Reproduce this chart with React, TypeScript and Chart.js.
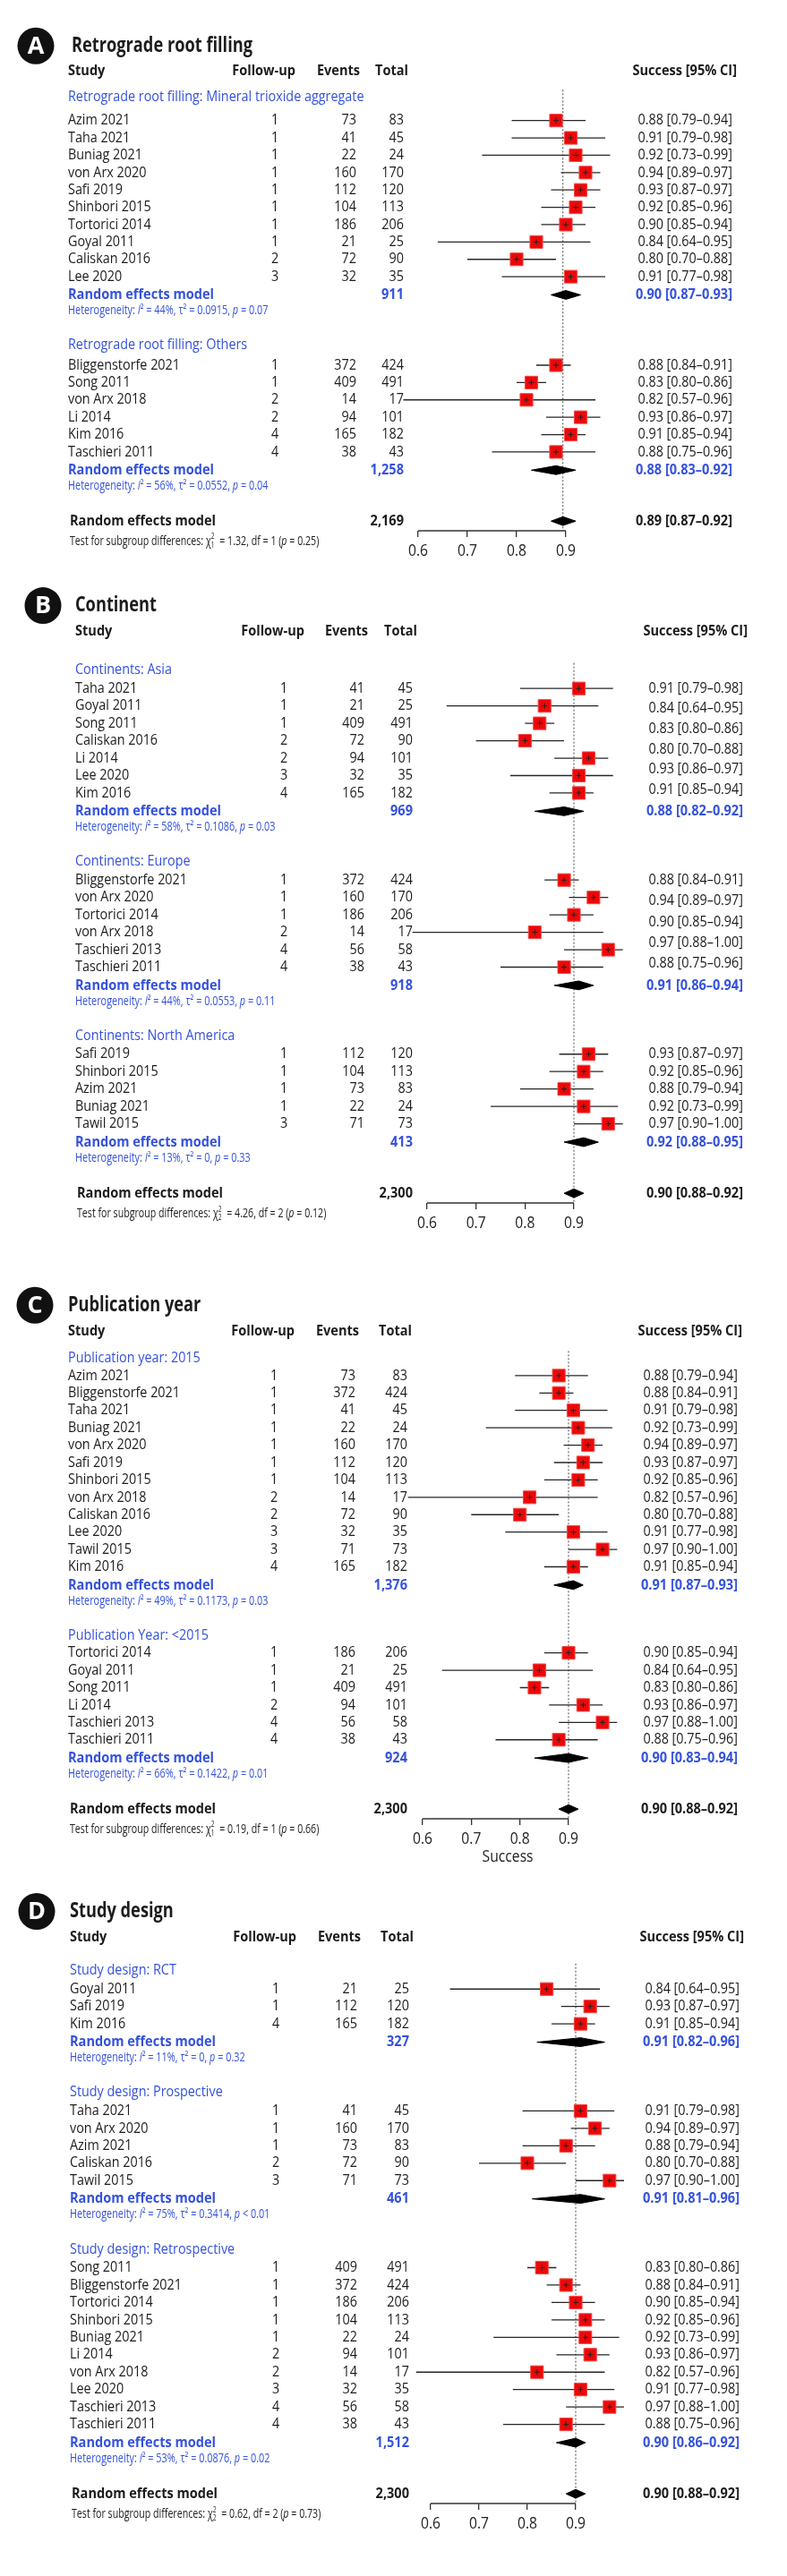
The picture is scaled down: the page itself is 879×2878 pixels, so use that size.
import React, { useEffect, useRef } from 'react';
import { Chart, registerables } from 'chart.js';

Chart.register(...registerables);

// ---------------- DATA ----------------
const studyNames = [
  'Azim 2021', 'Taha 2021', 'Buniag 2021', 'von Arx 2020', 'Safi 2019', 'Shinbori 2015',
  'Tortorici 2014', 'Goyal 2011', 'Caliskan 2016', 'Lee 2020', 'Bliggenstorfe 2021', 'Song 2011',
  'von Arx 2018', 'Li 2014', 'Kim 2016', 'Taschieri 2011', 'Taschieri 2013', 'Tawil 2015',
];
const studyFollowUp = [1, 1, 1, 1, 1, 1, 1, 1, 2, 3, 1, 1, 2, 2, 4, 4, 4, 3];
const studyEvents = [73, 41, 22, 160, 112, 104, 186, 21, 72, 32, 372, 409, 14, 94, 165, 38, 56, 71];
const studyTotals = [83, 45, 24, 170, 120, 113, 206, 25, 90, 35, 424, 491, 17, 101, 182, 43, 58, 73];
const studySuccess = [0.88, 0.91, 0.92, 0.94, 0.93, 0.92, 0.90, 0.84, 0.80, 0.91, 0.88, 0.83, 0.82, 0.93, 0.91, 0.88, 0.97, 0.97];
const studyLower = [0.79, 0.79, 0.73, 0.89, 0.87, 0.85, 0.85, 0.64, 0.70, 0.77, 0.84, 0.80, 0.57, 0.86, 0.85, 0.75, 0.88, 0.90];
const studyUpper = [0.94, 0.98, 0.99, 0.97, 0.97, 0.96, 0.94, 0.95, 0.88, 0.98, 0.91, 0.86, 0.96, 0.97, 0.94, 0.96, 1.00, 1.00];
const axisTickValues = [0.6, 0.7, 0.8, 0.9];

// Panel A
const panelATitle = 'Retrograde root filling';
const panelASubgroups = ['Retrograde root filling: Mineral trioxide aggregate', 'Retrograde root filling: Others'];
const panelAMembers = [
  ['Azim 2021', 'Taha 2021', 'Buniag 2021', 'von Arx 2020', 'Safi 2019', 'Shinbori 2015', 'Tortorici 2014', 'Goyal 2011', 'Caliskan 2016', 'Lee 2020'],
  ['Bliggenstorfe 2021', 'Song 2011', 'von Arx 2018', 'Li 2014', 'Kim 2016', 'Taschieri 2011'],
];
const panelASubTotals = ['911', '1,258'];
const panelASubSuccess = [0.90, 0.88];
const panelASubLower = [0.87, 0.83];
const panelASubUpper = [0.93, 0.92];
const panelAHetI2 = ['44%', '56%'];
const panelAHetTau2 = ['0.0915', '0.0552'];
const panelAHetP = ['= 0.07', '= 0.04'];
const panelAOverallTotal = '2,169';
const panelAOverallCI = [0.894, 0.87, 0.92];
const panelATest = ['1', '1.32', '1', '0.25'];

// Panel B
const panelBTitle = 'Continent';
const panelBSubgroups = ['Continents: Asia', 'Continents: Europe', 'Continents: North America'];
const panelBMembers = [
  ['Taha 2021', 'Goyal 2011', 'Song 2011', 'Caliskan 2016', 'Li 2014', 'Lee 2020', 'Kim 2016'],
  ['Bliggenstorfe 2021', 'von Arx 2020', 'Tortorici 2014', 'von Arx 2018', 'Taschieri 2013', 'Taschieri 2011'],
  ['Safi 2019', 'Shinbori 2015', 'Azim 2021', 'Buniag 2021', 'Tawil 2015'],
];
const panelBSubTotals = ['969', '918', '413'];
const panelBSubSuccess = [0.88, 0.91, 0.92];
const panelBSubLower = [0.82, 0.86, 0.88];
const panelBSubUpper = [0.92, 0.94, 0.95];
const panelBHetI2 = ['58%', '44%', '13%'];
const panelBHetTau2 = ['0.1086', '0.0553', '0'];
const panelBHetP = ['= 0.03', '= 0.11', '= 0.33'];
const panelBOverallTotal = '2,300';
const panelBOverallCI = [0.90, 0.88, 0.92];
const panelBTest = ['2', '4.26', '2', '0.12'];
const panelBMissingCiText = ['Lee 2020', 'von Arx 2018'];

// Panel C
const panelCTitle = 'Publication year';
const panelCSubgroups = ['Publication year: 2015', 'Publication Year: <2015'];
const panelCMembers = [
  ['Azim 2021', 'Bliggenstorfe 2021', 'Taha 2021', 'Buniag 2021', 'von Arx 2020', 'Safi 2019', 'Shinbori 2015', 'von Arx 2018', 'Caliskan 2016', 'Lee 2020', 'Tawil 2015', 'Kim 2016'],
  ['Tortorici 2014', 'Goyal 2011', 'Song 2011', 'Li 2014', 'Taschieri 2013', 'Taschieri 2011'],
];
const panelCSubTotals = ['1,376', '924'];
const panelCSubSuccess = [0.91, 0.90];
const panelCSubLower = [0.87, 0.83];
const panelCSubUpper = [0.93, 0.94];
const panelCHetI2 = ['49%', '66%'];
const panelCHetTau2 = ['0.1173', '0.1422'];
const panelCHetP = ['= 0.03', '= 0.01'];
const panelCOverallTotal = '2,300';
const panelCOverallCI = [0.90, 0.88, 0.92];
const panelCTest = ['1', '0.19', '1', '0.66'];
const panelCAxisTitle = 'Success';

// Panel D
const panelDTitle = 'Study design';
const panelDSubgroups = ['Study design: RCT', 'Study design: Prospective', 'Study design: Retrospective'];
const panelDMembers = [
  ['Goyal 2011', 'Safi 2019', 'Kim 2016'],
  ['Taha 2021', 'von Arx 2020', 'Azim 2021', 'Caliskan 2016', 'Tawil 2015'],
  ['Song 2011', 'Bliggenstorfe 2021', 'Tortorici 2014', 'Shinbori 2015', 'Buniag 2021', 'Li 2014', 'von Arx 2018', 'Lee 2020', 'Taschieri 2013', 'Taschieri 2011'],
];
const panelDSubTotals = ['327', '461', '1,512'];
const panelDSubSuccess = [0.91, 0.91, 0.90];
const panelDSubLower = [0.82, 0.81, 0.86];
const panelDSubUpper = [0.96, 0.96, 0.92];
const panelDHetI2 = ['11%', '75%', '53%'];
const panelDHetTau2 = ['0', '0.3414', '0.0876'];
const panelDHetP = ['= 0.32', '< 0.01', '= 0.02'];
const panelDOverallTotal = '2,300';
const panelDOverallCI = [0.90, 0.88, 0.92];
const panelDTest = ['2', '0.62', '2', '0.73'];

// ---------------- STYLE / LAYOUT ----------------
const FONT = "'Open Sans', 'Noto Sans', 'DejaVu Sans', sans-serif";
const BLUE = '#3552dc';
const INK = '#1c1c1c';
const RED = '#ec0808';
const ROW = 19.75;
const PAGE_W = 879;

type TextStyle = { size: number; weight: number; refText: string; refWidth: number };
const STYLE_BODY: TextStyle = { size: 16.5, weight: 400, refText: 'Bliggenstorfe 2021', refWidth: 125 };
const STYLE_BOLD: TextStyle = { size: 16.5, weight: 700, refText: 'Random effects model', refWidth: 163 };
const STYLE_TITLE: TextStyle = { size: 23, weight: 700, refText: 'Retrograde root filling', refWidth: 202 };
const STYLE_SMALL: TextStyle = { size: 14, weight: 400, refText: 'Heterogeneity: I\u00B2 = 44%, \u03C4\u00B2 = 0.0915, p = 0.07', refWidth: 224 };
const STYLE_TEST: TextStyle = { size: 15, weight: 400, refText: 'Test for subgroup differences: \u03C72 = 1.32, df = 1 (p = 0.25)', refWidth: 278 };
const STYLE_TICK: TextStyle = { size: 19, weight: 400, refText: '0.6', refWidth: 22 };
const STYLE_AXIS_TITLE: TextStyle = { size: 18, weight: 400, refText: 'Success', refWidth: 57 };

type PanelLayout = {
  top: number; circleX: number; circleY: number; titleX: number; titleY: number; headerY: number;
  labelY: number; gapFirst: number; gapLater: number; studyX: number; fuX: number; evX: number;
  totX: number; ciX: number; tick06: number; tick09: number; axisBlock: number;
};

const layoutA: PanelLayout = { top: 0, circleX: 40, circleY: 41, titleX: 80, titleY: 41, headerY: 70, labelY: 99, gapFirst: 27, gapLater: 23, studyX: 76, fuX: 307, evX: 398, totX: 451, ciX: 818, tick06: 467, tick09: 632, axisBlock: 40 };
const layoutB: PanelLayout = { top: 640, circleX: 48, circleY: 666, titleX: 84, titleY: 666, headerY: 695, labelY: 739, gapFirst: 21, gapLater: 21, studyX: 84, fuX: 317, evX: 407, totX: 461, ciX: 830, tick06: 477, tick09: 641, axisBlock: 40 };
const layoutC: PanelLayout = { top: 1400, circleX: 39, circleY: 1448, titleX: 76, titleY: 1448, headerY: 1478, labelY: 1508, gapFirst: 20, gapLater: 20, studyX: 76, fuX: 306, evX: 397, totX: 455, ciX: 824, tick06: 472, tick09: 635, axisBlock: 60 };
const layoutD: PanelLayout = { top: 2095, circleX: 41, circleY: 2125, titleX: 78, titleY: 2125, headerY: 2154, labelY: 2192, gapFirst: 21, gapLater: 21, studyX: 78, fuX: 308, evX: 399, totX: 457, ciX: 826, tick06: 481, tick09: 643, axisBlock: 40 };

// ---------------- SPEC ----------------
type Group = {
  label: string; members: number[]; total: string; est: number; lo: number; hi: number;
  i2: string; tau2: string; p: string;
};
type Spec = {
  letter: string; title: string; groups: Group[]; overallTotal: string; overall: number[];
  test: string[]; axisTitle?: string; missingCi: string[];
};

function makeSpec(
  letter: string, title: string, labels: string[], members: string[][], totals: string[],
  est: number[], lo: number[], hi: number[], i2: string[], tau2: string[], p: string[],
  overallTotal: string, overall: number[], test: string[], axisTitle?: string, missingCi: string[] = []
): Spec {
  return {
    letter, title, overallTotal, overall, test, axisTitle, missingCi,
    groups: labels.map((label, g) => ({
      label,
      members: members[g].map((n) => studyNames.indexOf(n)),
      total: totals[g], est: est[g], lo: lo[g], hi: hi[g], i2: i2[g], tau2: tau2[g], p: p[g],
    })),
  };
}

const specA = makeSpec('A', panelATitle, panelASubgroups, panelAMembers, panelASubTotals, panelASubSuccess, panelASubLower, panelASubUpper, panelAHetI2, panelAHetTau2, panelAHetP, panelAOverallTotal, panelAOverallCI, panelATest);
const specB = makeSpec('B', panelBTitle, panelBSubgroups, panelBMembers, panelBSubTotals, panelBSubSuccess, panelBSubLower, panelBSubUpper, panelBHetI2, panelBHetTau2, panelBHetP, panelBOverallTotal, panelBOverallCI, panelBTest, undefined, panelBMissingCiText);
const specC = makeSpec('C', panelCTitle, panelCSubgroups, panelCMembers, panelCSubTotals, panelCSubSuccess, panelCSubLower, panelCSubUpper, panelCHetI2, panelCHetTau2, panelCHetP, panelCOverallTotal, panelCOverallCI, panelCTest, panelCAxisTitle);
const specD = makeSpec('D', panelDTitle, panelDSubgroups, panelDMembers, panelDSubTotals, panelDSubSuccess, panelDSubLower, panelDSubUpper, panelDHetI2, panelDHetTau2, panelDHetP, panelDOverallTotal, panelDOverallCI, panelDTest);

// ---------------- ROW GEOMETRY ----------------
type GroupRows = { labelY: number; studyYs: number[]; reY: number; hetY: number };
type Rows = { groups: GroupRows[]; overallY: number; axisY: number; testY: number };

function computeRows(spec: Spec, lay: PanelLayout): Rows {
  let y = lay.labelY;
  const groups: GroupRows[] = [];
  spec.groups.forEach((g, gi) => {
    const labelY = y;
    const start = labelY + (gi === 0 ? lay.gapFirst : lay.gapLater);
    const studyYs = g.members.map((_, k) => start + k * ROW);
    const reY = studyYs[studyYs.length - 1] + ROW + 1;
    groups.push({ labelY, studyYs, reY, hetY: reY + 18 });
    y = reY + 57;
  });
  const overallY = groups[groups.length - 1].reY + 58;
  return { groups, overallY, axisY: overallY + 11, testY: overallY + 23 };
}

// ---------------- TEXT HELPERS ----------------
const fontOf = (st: TextStyle, italic = false, size = st.size) => `${italic ? 'italic ' : ''}${st.weight} ${size}px ${FONT}`;

function scaleFor(ctx: CanvasRenderingContext2D, st: TextStyle) {
  ctx.save();
  ctx.font = fontOf(st);
  const w = ctx.measureText(st.refText).width;
  ctx.restore();
  return w > 0 ? st.refWidth / w : 1;
}

function drawText(ctx: CanvasRenderingContext2D, s: string, x: number, y: number, st: TextStyle, align: 'left' | 'right' | 'center', color: string) {
  const sx = scaleFor(ctx, st);
  ctx.save();
  ctx.font = fontOf(st);
  ctx.fillStyle = color;
  ctx.textBaseline = 'middle';
  ctx.textAlign = 'left';
  const w = ctx.measureText(s).width * sx;
  const x0 = align === 'left' ? x : align === 'right' ? x - w : x - w / 2;
  ctx.translate(x0, y);
  ctx.scale(sx, 1);
  ctx.fillText(s, 0, 0);
  ctx.restore();
}

type Run = { t: string; k: 'n' | 'i' | 'supsub'; sub?: string };

function drawRuns(ctx: CanvasRenderingContext2D, runs: Run[], x: number, y: number, st: TextStyle, color: string) {
  const sx = scaleFor(ctx, st);
  let cx = x;
  ctx.save();
  ctx.fillStyle = color;
  ctx.textBaseline = 'middle';
  ctx.textAlign = 'left';
  for (const r of runs) {
    if (r.k === 'supsub') {
      const small = st.size * 0.62;
      ctx.font = fontOf(st, false, small);
      const w1 = ctx.measureText(r.t).width;
      const w2 = ctx.measureText(r.sub || '').width;
      ctx.save(); ctx.translate(cx, y - st.size * 0.33); ctx.scale(sx, 1); ctx.fillText(r.t, 0, 0); ctx.restore();
      ctx.save(); ctx.translate(cx, y + st.size * 0.3); ctx.scale(sx, 1); ctx.fillText(r.sub || '', 0, 0); ctx.restore();
      cx += Math.max(w1, w2) * sx + 3;
    } else {
      ctx.font = fontOf(st, r.k === 'i');
      const w = ctx.measureText(r.t).width;
      ctx.save(); ctx.translate(cx, y); ctx.scale(sx, 1); ctx.fillText(r.t, 0, 0); ctx.restore();
      cx += w * sx;
    }
  }
  ctx.restore();
}

const ciText = (e: number, l: number, h: number) => `${e.toFixed(2)} [${l.toFixed(2)}\u2013${h.toFixed(2)}]`;

// ---------------- CHART ----------------
function buildChart(canvas: HTMLCanvasElement, spec: Spec, lay: PanelLayout, rows: Rows) {
  const toRow = (abs: number) => (abs - lay.top) / ROW;
  const yMax = toRow(rows.axisY);
  const xMin = 0.5;
  const xMax = 1.05;
  const pxPer = (lay.tick09 - lay.tick06) / (axisTickValues[3] - axisTickValues[0]);
  const left = lay.tick06 - (axisTickValues[0] - xMin) * pxPer;
  const right = PAGE_W - left - (xMax - xMin) * pxPer;
  const dh = 5 / ROW;

  const datasets: any[] = [];
  const refX = spec.overall[0];
  datasets.push({
    data: [{ x: refX, y: toRow(rows.groups[0].labelY - 8) }, { x: refX, y: yMax }],
    showLine: true, borderColor: '#4a4a4a', borderWidth: 1, borderDash: [2, 2], pointRadius: 0, order: 20, clip: false,
  });
  datasets.push({
    data: [{ x: axisTickValues[0], y: yMax }, { x: axisTickValues[3], y: yMax }],
    showLine: true, borderColor: '#333', borderWidth: 1.3, pointRadius: 0, order: 19, clip: false,
  });

  const squares: any[] = [];
  spec.groups.forEach((g, gi) => {
    g.members.forEach((si, k) => {
      const y = toRow(rows.groups[gi].studyYs[k]);
      datasets.push({
        data: [{ x: studyLower[si], y }, { x: studyUpper[si], y }],
        showLine: true, borderColor: '#262626', borderWidth: 1.3, pointRadius: 0, order: 15, clip: false,
      });
      squares.push({ x: studySuccess[si], y });
    });
  });
  datasets.push({
    data: squares, pointStyle: 'rect', pointRadius: 10, backgroundColor: RED, borderColor: '#f24a4a',
    borderWidth: 1, order: 10, clip: false,
  });
  datasets.push({
    data: squares, pointStyle: 'cross', pointRadius: 3, borderColor: '#222', borderWidth: 1, order: 9, clip: false,
  });

  const diamonds: { y: number; e: number; l: number; h: number }[] = spec.groups.map((g, gi) => ({
    y: toRow(rows.groups[gi].reY), e: g.est, l: g.lo, h: g.hi,
  }));
  diamonds.push({ y: toRow(rows.overallY), e: spec.overall[0], l: spec.overall[1], h: spec.overall[2] });
  diamonds.forEach((d) => {
    const upperIndex = datasets.length;
    datasets.push({
      data: [{ x: d.l, y: d.y }, { x: d.e, y: d.y - dh }, { x: d.h, y: d.y }],
      showLine: true, borderColor: '#000', borderWidth: 1, pointRadius: 0, fill: false, order: 5, clip: false,
    });
    datasets.push({
      data: [{ x: d.l, y: d.y }, { x: d.e, y: d.y + dh }, { x: d.h, y: d.y }],
      showLine: true, borderColor: '#000', borderWidth: 1, pointRadius: 0, backgroundColor: '#000',
      fill: upperIndex, order: 5, clip: false,
    });
  });

  const textPlugin = {
    id: 'forestText',
    afterDraw(chart: any) {
      const ctx: CanvasRenderingContext2D = chart.ctx;
      const yS = chart.scales.y;
      const xS = chart.scales.x;
      const py = (abs: number) => yS.getPixelForValue(toRow(abs));

      // panel letter
      ctx.save();
      ctx.beginPath();
      ctx.arc(lay.circleX, py(lay.circleY), 20.5, 0, Math.PI * 2);
      ctx.fillStyle = '#111';
      ctx.fill();
      ctx.font = `700 27px ${FONT}`;
      ctx.fillStyle = '#fff';
      ctx.textAlign = 'center';
      ctx.textBaseline = 'middle';
      ctx.fillText(spec.letter, lay.circleX, py(lay.circleY) + 1);
      ctx.restore();

      drawText(ctx, spec.title, lay.titleX, py(lay.titleY), STYLE_TITLE, 'left', INK);

      const hy = py(lay.headerY);
      drawText(ctx, 'Study', lay.studyX, hy, STYLE_BOLD, 'left', INK);
      drawText(ctx, 'Follow-up', lay.fuX + 23, hy, STYLE_BOLD, 'right', INK);
      drawText(ctx, 'Events', lay.evX + 4, hy, STYLE_BOLD, 'right', INK);
      drawText(ctx, 'Total', lay.totX + 5, hy, STYLE_BOLD, 'right', INK);
      drawText(ctx, 'Success [95% CI]', lay.ciX + 5, hy, STYLE_BOLD, 'right', INK);

      spec.groups.forEach((g, gi) => {
        const gr = rows.groups[gi];
        drawText(ctx, g.label, lay.studyX, py(gr.labelY), STYLE_BODY, 'left', BLUE);
        const visible = g.members.filter((si) => !spec.missingCi.includes(studyNames[si]));
        const spread = visible.length < g.members.length;
        const firstY = gr.studyYs[0];
        const lastY = gr.studyYs[gr.studyYs.length - 1] - 4;
        g.members.forEach((si, k) => {
          const y = py(gr.studyYs[k]);
          drawText(ctx, studyNames[si], lay.studyX, y, STYLE_BODY, 'left', INK);
          drawText(ctx, String(studyFollowUp[si]), lay.fuX, y, STYLE_BODY, 'center', INK);
          drawText(ctx, String(studyEvents[si]), lay.evX, y, STYLE_BODY, 'right', INK);
          drawText(ctx, String(studyTotals[si]), lay.totX, y, STYLE_BODY, 'right', INK);
          const vi = visible.indexOf(si);
          if (vi >= 0) {
            const ty = spread ? py(firstY + (vi * (lastY - firstY)) / (visible.length - 1)) : y;
            drawText(ctx, ciText(studySuccess[si], studyLower[si], studyUpper[si]), lay.ciX, ty, STYLE_BODY, 'right', INK);
          }
        });
        const ry = py(gr.reY);
        drawText(ctx, 'Random effects model', lay.studyX, ry, STYLE_BOLD, 'left', BLUE);
        drawText(ctx, g.total, lay.totX, ry, STYLE_BOLD, 'right', BLUE);
        drawText(ctx, ciText(g.est, g.lo, g.hi), lay.ciX, ry, STYLE_BOLD, 'right', BLUE);
        drawRuns(ctx, [
          { t: 'Heterogeneity: ', k: 'n' }, { t: 'I', k: 'i' }, { t: '\u00B2 = ' + g.i2 + ', ', k: 'n' },
          { t: '\u03C4\u00B2 = ' + g.tau2 + ', ', k: 'n' }, { t: 'p', k: 'i' }, { t: ' ' + g.p, k: 'n' },
        ], lay.studyX, py(gr.hetY), STYLE_SMALL, BLUE);
      });

      const oy = py(rows.overallY);
      drawText(ctx, 'Random effects model', lay.studyX + 2, oy, STYLE_BOLD, 'left', INK);
      drawText(ctx, spec.overallTotal, lay.totX, oy, STYLE_BOLD, 'right', INK);
      drawText(ctx, ciText(spec.overall[0], spec.overall[1], spec.overall[2]), lay.ciX, oy, STYLE_BOLD, 'right', INK);
      drawRuns(ctx, [
        { t: 'Test for subgroup differences: ', k: 'n' }, { t: '\u03C7', k: 'n' },
        { t: '2', k: 'supsub', sub: spec.test[0] },
        { t: ' = ' + spec.test[1] + ', df = ' + spec.test[2] + ' (', k: 'n' }, { t: 'p', k: 'i' },
        { t: ' = ' + spec.test[3] + ')', k: 'n' },
      ], lay.studyX + 2, py(rows.testY), STYLE_TEST, INK);

      // axis tick labels (positioned through the x scale)
      const tickY = py(rows.axisY) + 23;
      axisTickValues.forEach((v) => {
        drawText(ctx, v.toFixed(1), xS.getPixelForValue(v), tickY, STYLE_TICK, 'center', '#222');
      });
      if (spec.axisTitle) {
        const area = chart.chartArea;
        drawText(ctx, spec.axisTitle, (area.left + area.right) / 2, py(rows.axisY) + 43, STYLE_AXIS_TITLE, 'center', '#222');
      }
    },
  };

  return new Chart(canvas, {
    type: 'scatter',
    data: { datasets },
    options: {
      responsive: false,
      animation: false,
      events: [],
      layout: { padding: { left, right, top: 0, bottom: 0 } },
      plugins: { legend: { display: false }, tooltip: { enabled: false }, title: { display: false } },
      scales: {
        x: {
          type: 'linear', min: xMin, max: xMax, position: 'bottom',
          afterBuildTicks: (s: any) => { s.ticks = axisTickValues.map((v) => ({ value: v })); },
          afterFit: (s: any) => { s.height = lay.axisBlock; },
          grid: { display: true, drawOnChartArea: false, drawTicks: true, tickLength: 7, color: '#333', lineWidth: 1.3 },
          border: { display: false },
          ticks: { display: false, autoSkip: false, maxRotation: 0 },
          title: { display: false },
        },
        y: { type: 'linear', display: false, reverse: true, min: 0, max: yMax },
      },
    } as any,
    plugins: [textPlugin],
  });
}

function ForestPanel({ spec, lay }: { spec: Spec; lay: PanelLayout }) {
  const ref = useRef<HTMLCanvasElement>(null);
  const rows = computeRows(spec, lay);
  const height = Math.round(rows.axisY - lay.top + lay.axisBlock);
  useEffect(() => {
    const chart = buildChart(ref.current as HTMLCanvasElement, spec, lay, rows);
    let alive = true;
    if ((document as any).fonts && (document as any).fonts.ready) {
      (document as any).fonts.ready.then(() => { if (alive) chart.draw(); });
    }
    return () => { alive = false; chart.destroy(); };
  }, []);
  return (
    <canvas
      ref={ref}
      width={PAGE_W}
      height={height}
      style={{ position: 'absolute', left: 0, top: lay.top, display: 'block', width: PAGE_W, height }}
    />
  );
}

export default function App() {
  return (
    <div style={{ position: 'absolute', left: 0, top: 0, width: PAGE_W, height: 2878, background: '#fff', overflow: 'hidden' }}>
      <ForestPanel spec={specA} lay={layoutA} />
      <ForestPanel spec={specB} lay={layoutB} />
      <ForestPanel spec={specC} lay={layoutC} />
      <ForestPanel spec={specD} lay={layoutD} />
    </div>
  );
}
